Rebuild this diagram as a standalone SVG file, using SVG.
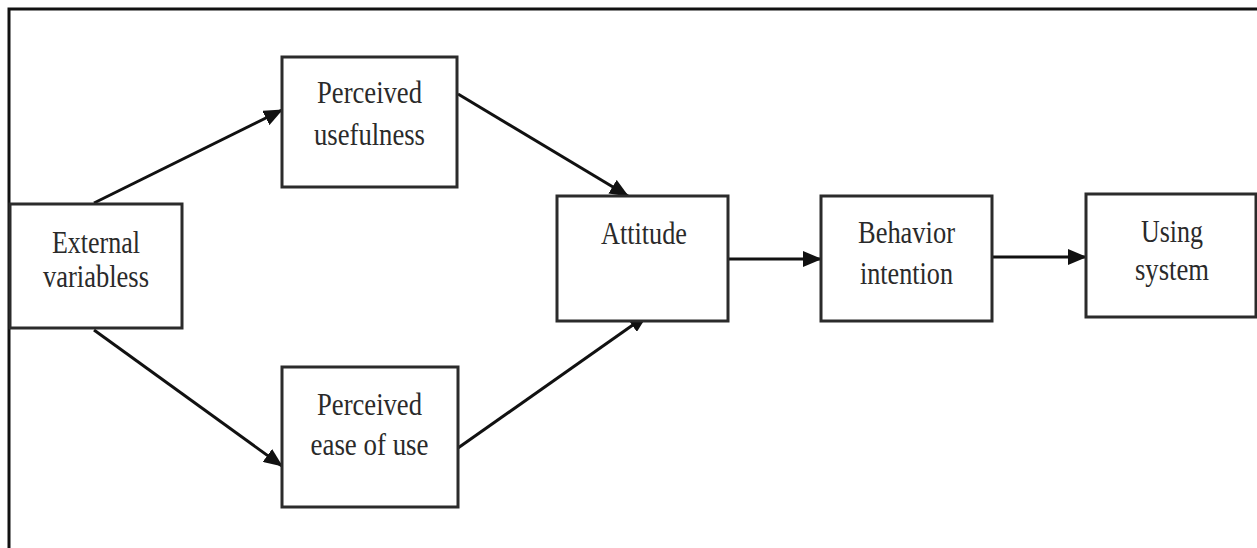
<svg xmlns="http://www.w3.org/2000/svg" width="1257" height="548" viewBox="0 0 1257 548">
<style>
.box{fill:#fff;stroke:#2b2b2b;stroke-width:3}
.t{font-family:"Liberation Serif","Times New Roman",serif;font-size:31px;fill:#2a2a2a;text-anchor:middle}
.c{stroke:#111;stroke-width:3;fill:none;marker-end:url(#ah)}
</style>
<defs>
<marker id="ah" markerUnits="userSpaceOnUse" markerWidth="19" markerHeight="16" refX="18" refY="8" orient="auto">
<path d="M0,0 L19,8 L0,16 Z" fill="#111"/>
</marker>
</defs>
<rect width="1257" height="548" fill="#fff"/>
<path d="M9,548 V9 H1257" fill="none" stroke="#111" stroke-width="3"/>
<g id="connectors">
<line class="c" x1="94" y1="203" x2="282" y2="110"/>
<line class="c" x1="94" y1="330" x2="282" y2="466"/>
<line class="c" x1="458" y1="94" x2="628" y2="196"/>
<line class="c" x1="458" y1="448" x2="647" y2="315"/>
<line class="c" x1="728" y1="259" x2="821" y2="259"/>
<line class="c" x1="992" y1="257" x2="1086" y2="257"/>
</g>
<g id="external">
<rect class="box" x="10" y="204" width="172" height="124"/>
<text class="t" x="96" y="253" textLength="88" lengthAdjust="spacingAndGlyphs">External</text>
<text class="t" x="96" y="287" textLength="106" lengthAdjust="spacingAndGlyphs">variabless</text>
</g>
<g id="usefulness">
<rect class="box" x="282" y="57" width="175" height="130"/>
<text class="t" x="369.5" y="103" textLength="105" lengthAdjust="spacingAndGlyphs">Perceived</text>
<text class="t" x="369.5" y="145" textLength="111" lengthAdjust="spacingAndGlyphs">usefulness</text>
</g>
<g id="ease">
<rect class="box" x="282" y="367" width="176" height="140"/>
<text class="t" x="369.5" y="415" textLength="105" lengthAdjust="spacingAndGlyphs">Perceived</text>
<text class="t" x="369.5" y="455" textLength="118" lengthAdjust="spacingAndGlyphs">ease of use</text>
</g>
<g id="attitude">
<rect class="box" x="557" y="196" width="171" height="125"/>
<text class="t" x="644" y="244" textLength="86" lengthAdjust="spacingAndGlyphs">Attitude</text>
</g>
<g id="behavior">
<rect class="box" x="821" y="196" width="171" height="125"/>
<text class="t" x="906.5" y="243" textLength="97" lengthAdjust="spacingAndGlyphs">Behavior</text>
<text class="t" x="906.5" y="284" textLength="93" lengthAdjust="spacingAndGlyphs">intention</text>
</g>
<g id="using">
<rect class="box" x="1086" y="194" width="170" height="123"/>
<text class="t" x="1172" y="242" textLength="62" lengthAdjust="spacingAndGlyphs">Using</text>
<text class="t" x="1172" y="280" textLength="74" lengthAdjust="spacingAndGlyphs">system</text>
</g>
</svg>
